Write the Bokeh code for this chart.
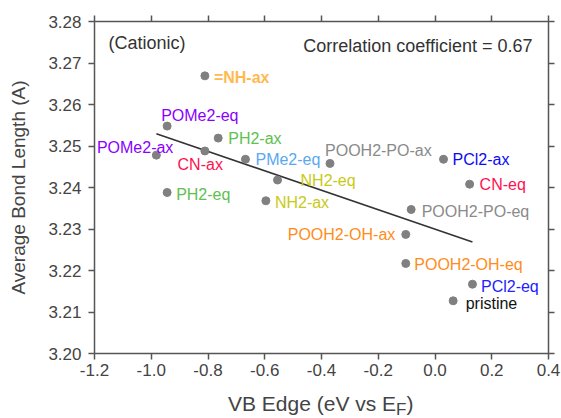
import numpy as np
from bokeh.plotting import figure
from bokeh.layouts import column
from bokeh.models import (ColumnDataSource, Label, LinearAxis, FixedTicker,
                          NumeralTickFormatter, Div)
from bokeh.core.properties import value
from bokeh.embed import file_html
from bokeh.resources import INLINE

# ---- data -----------------------------------------------------------------
names = ["=NH-ax", "POMe2-eq", "PH2-ax", "POMe2-ax", "CN-ax", "PMe2-eq",
         "POOH2-PO-ax", "PCl2-ax", "NH2-eq", "CN-eq", "PH2-eq", "NH2-ax",
         "POOH2-PO-eq", "POOH2-OH-ax", "POOH2-OH-eq", "PCl2-eq", "pristine"]
vb_edge = [-0.811, -0.944, -0.764, -0.982, -0.811, -0.668,
           -0.370, 0.030, -0.555, 0.122, -0.944, -0.596,
           -0.084, -0.103, -0.103, 0.132, 0.064]
bond_length = [3.2669, 3.2548, 3.2519, 3.2478, 3.2488, 3.2468,
               3.2458, 3.2468, 3.2418, 3.2408, 3.2388, 3.2368,
               3.2347, 3.2287, 3.2217, 3.2167, 3.2127]
x_ticks = [-1.2, -1.0, -0.8, -0.6, -0.4, -0.2, 0.0, 0.2, 0.4]
y_ticks = [3.20, 3.21, 3.22, 3.23, 3.24, 3.25, 3.26, 3.27, 3.28]
corr_text = "Correlation coefficient = 0.67"

# ---- label styling and placement (pixel offsets from each point) ----------
label_colors = ["#FFBA4F", "#8A00FF", "#60C050", "#8A00FF", "#FF1050", "#5AA8F0",
                "#8A8A8A", "#0A0AF5", "#C9C916", "#FF1050", "#60C050", "#C9C916",
                "#8A8A8A", "#FF8C1A", "#FF8C1A", "#2222FF", "#111111"]
label_styles = ["bold"] + ["normal"] * 16
label_align = ["left", "left", "left", "right", "right", "left",
               "left", "left", "left", "left", "left", "left",
               "left", "right", "left", "left", "left"]
label_dx = [9, -6, 10, 17, 18, 10, -5, 9, 23, 10, 9, 9, 10.5, -10.5, 8.5, 8.5, 12.5]
label_dy = [1.5, -11, 0, -7.5, 14, 0.5, -12.5, 0.5, 0.5, 0.5, 2.5, 1.5, 2.5, 0.5, 1.5, 2, 2.5]

FONT = "Liberation Sans"
AXIS_COLOR = "#555555"
TEXT_COLOR = "#444444"

source = ColumnDataSource(dict(x=vb_edge, y=bond_length, label=names,
                               color=label_colors, style=label_styles,
                               align=label_align, dx=label_dx, dy=label_dy))

p = figure(width=561, height=388, x_range=(-1.2, 0.4), y_range=(3.20, 3.28),
           output_backend="svg", toolbar_location=None,
           min_border_left=94, min_border_right=13,
           min_border_top=21, min_border_bottom=35)
p.grid.visible = False
p.outline_line_color = None
p.background_fill_color = "white"
p.border_fill_color = "white"


def style_axis(ax, show_labels=True):
    ax.axis_line_color = AXIS_COLOR
    ax.axis_line_width = 1.5
    ax.major_tick_line_color = AXIS_COLOR
    ax.major_tick_line_width = 1.5
    ax.major_tick_out = 6
    ax.major_tick_in = 0
    ax.minor_tick_line_color = None
    ax.major_label_text_font = FONT
    ax.major_label_text_color = TEXT_COLOR
    ax.major_label_text_font_size = "17px"
    if not show_labels:
        # tick marks only on the top and right edges
        ax.major_label_text_color = None
        ax.major_label_text_font_size = "0px"
        ax.major_label_standoff = 0


xaxis = p.xaxis[0]
yaxis = p.yaxis[0]
xaxis.ticker = FixedTicker(ticks=x_ticks)
yaxis.ticker = FixedTicker(ticks=y_ticks)
xaxis.formatter = NumeralTickFormatter(format="0.0")
yaxis.formatter = NumeralTickFormatter(format="0.00")
style_axis(xaxis)
style_axis(yaxis)
xaxis.major_label_standoff = 4
yaxis.major_label_standoff = 7

yaxis.axis_label = "Average Bond Length (A)"
yaxis.axis_label_text_font = FONT
yaxis.axis_label_text_font_size = "19px"
yaxis.axis_label_text_font_style = "normal"
yaxis.axis_label_text_color = TEXT_COLOR
yaxis.axis_label_standoff = 16

top_axis = LinearAxis(ticker=FixedTicker(ticks=x_ticks))
right_axis = LinearAxis(ticker=FixedTicker(ticks=y_ticks))
style_axis(top_axis, show_labels=False)
style_axis(right_axis, show_labels=False)
p.add_layout(top_axis, "above")
p.add_layout(right_axis, "right")

# least-squares trend line across the range of the data
slope, intercept = np.polyfit(vb_edge, bond_length, 1)
fit_x = np.array([min(vb_edge), max(vb_edge)])
p.line(fit_x, slope * fit_x + intercept, line_color="#333333", line_width=1.6)

p.scatter("x", "y", source=source, size=8, fill_color="#808080",
          line_color="#808080")

p.text(x="x", y="y", text="label", source=source, text_color="color",
       text_align="align", text_baseline="middle", x_offset="dx", y_offset="dy",
       text_font=value(FONT), text_font_size="16px", text_font_style="style")

# annotations (screen units are measured from the frame's lower-left corner)
p.add_layout(Label(x=14, y=311, x_units="screen", y_units="screen",
                   text="(Cationic)", text_font=FONT, text_font_size="18px",
                   text_color="#333333", text_baseline="middle"))
p.add_layout(Label(x=438, y=308, x_units="screen", y_units="screen",
                   text=corr_text, text_font=FONT, text_font_size="18px",
                   text_color="#333333", text_baseline="middle",
                   text_align="right"))

# x-axis title with a subscript, set as HTML under the plot
x_title = Div(
    text='VB Edge (eV vs E<span style="font-size:17px; position:relative; '
         'top:4px;">F</span>)',
    width=561, height=30,
    styles={"font-family": FONT, "font-size": "21px", "color": TEXT_COLOR,
            "line-height": "21px", "padding-left": "223px",
            "padding-top": "0px", "box-sizing": "border-box",
            "white-space": "nowrap", "overflow": "hidden",
            "background-color": "white"},
)

layout = column(p, x_title, spacing=0)

open("out.html", "w").write(file_html(layout, INLINE))
